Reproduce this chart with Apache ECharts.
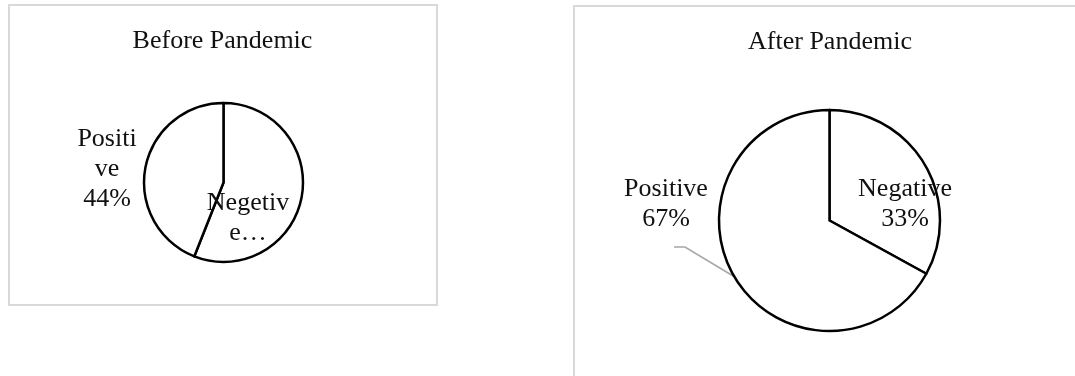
<!DOCTYPE html>
<html>
<head>
<meta charset="utf-8">
<title>Before and After Pandemic</title>
<script src="https://cdn.jsdelivr.net/npm/echarts@6/dist/echarts.min.js"></script>
<style>
  html, body { margin: 0; padding: 0; background: #fff; }
  #chart { width: 1075px; height: 376px; }
</style>
</head>
<body>
<div id="chart"></div>
<script>
// Sentiment shares, clockwise from 12 o'clock
const beforeCategories = ['Negetive', 'Positive'];
const beforeValues = [56, 44];
const afterCategories = ['Negative', 'Positive'];
const afterValues = [33, 67];

// Label text as laid out in each panel (wrapped name lines; percent is appended where shown)
const beforeLabelNames = ['Negetiv\ne\u2026', 'Positi\nve'];
const beforeShowPercent = [false, true];
const afterLabelNames = ['Negative', 'Positive'];
const afterShowPercent = [true, true];

const FONT = '"Liberation Serif", "Times New Roman", serif';
const TEXT_COLOR = '#111';

// Label anchor points (centre of the text block) for each panel
const labelAnchors = [
  [[248, 218], [107, 169]],
  [[905, 204], [666, 204]]
];
// Leader-line bend for the "Positive" label of the second panel
const leaderBend = [[685, 247], [674, 247]];

function buildData(cats, vals) {
  return cats.map((c, i) => ({ name: c, value: vals[i] }));
}

function makeFormatter(names, showPct) {
  return function (p) {
    const pct = Math.round(p.percent) + '%';
    return showPct[p.dataIndex] ? names[p.dataIndex] + '\n' + pct : names[p.dataIndex];
  };
}

const pieCommon = {
  type: 'pie',
  startAngle: 90,
  clockwise: true,
  avoidLabelOverlap: false,
  silent: true,
  animation: false,
  itemStyle: { color: '#fff', borderColor: '#000', borderWidth: 2.5 },
  emphasis: { disabled: true },
  label: {
    show: true,
    position: 'outside',
    fontFamily: FONT,
    fontSize: 26,
    lineHeight: 30,
    color: TEXT_COLOR,
    align: 'center'
  },
  labelLine: { show: false }
};

const chart = echarts.init(document.getElementById('chart'), null, { renderer: 'canvas' });

const afterData = buildData(afterCategories, afterValues);
afterData[1].labelLine = { show: true, length: 10, length2: 10, lineStyle: { color: '#a6a6a6', width: 1.5 } };

chart.setOption({
  backgroundColor: '#fff',
  animation: false,
  title: [
    {
      text: 'Before Pandemic', left: 222.5, top: 28, textAlign: 'center', padding: 0,
      textStyle: { fontFamily: FONT, fontSize: 26, fontWeight: 'normal', color: TEXT_COLOR }
    },
    {
      text: 'After Pandemic', left: 830, top: 29.5, textAlign: 'center', padding: 0,
      textStyle: { fontFamily: FONT, fontSize: 26, fontWeight: 'normal', color: TEXT_COLOR }
    }
  ],
  graphic: [
    { type: 'rect', shape: { x: 9, y: 5, width: 428, height: 300 }, style: { fill: 'none', stroke: '#d9d9d9', lineWidth: 2 }, silent: true },
    { type: 'rect', shape: { x: 574, y: 6, width: 520, height: 400 }, style: { fill: 'none', stroke: '#d9d9d9', lineWidth: 2 }, silent: true }
  ],
  series: [
    Object.assign({}, pieCommon, {
      name: 'Before Pandemic',
      center: [223.5, 182.5],
      radius: 79.5,
      data: buildData(beforeCategories, beforeValues),
      label: Object.assign({}, pieCommon.label, { formatter: makeFormatter(beforeLabelNames, beforeShowPercent) }),
      labelLayout: function (p) {
        const a = labelAnchors[0][p.dataIndex];
        return { x: a[0], y: a[1], align: 'center', verticalAlign: 'middle' };
      }
    }),
    Object.assign({}, pieCommon, {
      name: 'After Pandemic',
      center: [829.5, 220.5],
      radius: 110.5,
      data: afterData,
      label: Object.assign({}, pieCommon.label, { formatter: makeFormatter(afterLabelNames, afterShowPercent) }),
      labelLayout: function (p) {
        const a = labelAnchors[1][p.dataIndex];
        const out = { x: a[0], y: a[1], align: 'center', verticalAlign: 'middle' };
        if (p.dataIndex === 1 && p.labelLinePoints && p.labelLinePoints.length) {
          out.labelLinePoints = [p.labelLinePoints[0].slice(), leaderBend[0], leaderBend[1]];
        }
        return out;
      }
    })
  ]
});
</script>
</body>
</html>
